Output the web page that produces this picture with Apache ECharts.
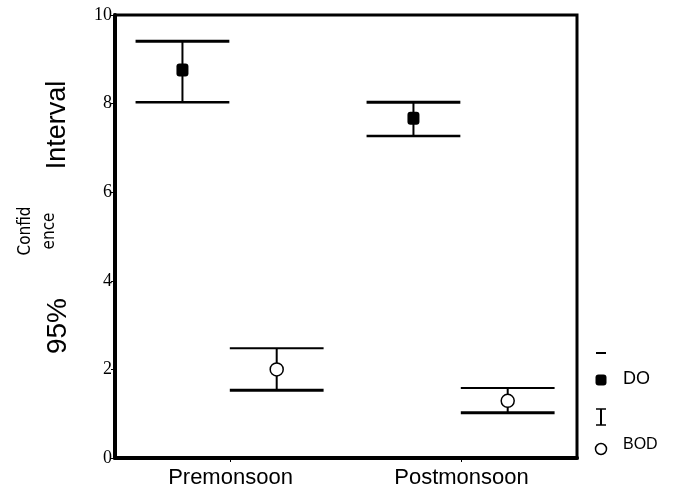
<!DOCTYPE html>
<html>
<head>
<meta charset="utf-8">
<script src="https://cdn.jsdelivr.net/npm/echarts@6/dist/echarts.min.js"></script>
<style>html,body{margin:0;padding:0;background:#fff}#c{width:675px;height:493px}</style>
</head>
<body>
<div id="c"></div>
<script>
const categories = ['Premonsoon', 'Postmonsoon'];
const yTicks = [0, 2, 4, 6, 8, 10];
const doMean = [8.76, 7.67];
const doLow = [8.03, 7.27];
const doHigh = [9.41, 8.03];
const bodMean = [2.0, 1.29];
const bodLow = [1.53, 1.02];
const bodHigh = [2.48, 1.58];

const chart = echarts.init(document.getElementById('c'), null, {renderer: 'canvas'});

function makeData(low, high, mean) {
  return categories.map((c, i) => [i, low[i], high[i], mean[i]]);
}

function errRender(offFrac, kind) {
  return function (params, api) {
    const c = api.value(0);
    const bw = api.size([1, 0])[0];
    const off = offFrac * bw;
    const half = 0.203 * bw;
    const pL = api.coord([c, api.value(1)]);
    const pH = api.coord([c, api.value(2)]);
    const pM = api.coord([c, api.value(3)]);
    const x = pL[0] + off;
    const children = [
      {type: 'line', shape: {x1: x - half, y1: pH[1], x2: x + half, y2: pH[1]},
       style: {stroke: '#000', lineWidth: kind === 'do' ? 3 : 2}},
      {type: 'line', shape: {x1: x - half, y1: pL[1], x2: x + half, y2: pL[1]},
       style: {stroke: '#000', lineWidth: kind === 'do' ? 2.5 : 3}},
      {type: 'line', shape: {x1: x, y1: pH[1], x2: x, y2: pL[1]},
       style: {stroke: '#000', lineWidth: 2}}
    ];
    if (kind === 'do') {
      children.push({type: 'rect', shape: {x: x - 6, y: pM[1] - 6.5, width: 12, height: 13, r: 3},
        style: {fill: '#000'}});
    } else {
      children.push({type: 'circle', shape: {cx: x, cy: pM[1], r: 6.5},
        style: {fill: '#fff', stroke: '#000', lineWidth: 1.5}});
    }
    return {type: 'group', children: children};
  };
}

const option = {
  animation: false,
  backgroundColor: '#fff',
  grid: {left: 115, right: 98, top: 15, bottom: 35, show: true, borderColor: '#000', borderWidth: 3},
  xAxis: {
    type: 'category',
    data: categories,
    axisLine: {lineStyle: {color: '#000', width: 4}},
    axisTick: {show: true, alignWithLabel: true, length: 4, lineStyle: {color: '#000', width: 1}},
    axisLabel: {color: '#000', fontFamily: 'Liberation Sans, Arial, sans-serif', fontSize: 22, margin: 9}
  },
  yAxis: {
    type: 'value',
    min: 0, max: 10, interval: 2,
    splitLine: {show: false},
    axisLine: {show: true, lineStyle: {color: '#000', width: 4}},
    axisTick: {show: true, length: 4, lineStyle: {color: '#000', width: 1}},
    axisLabel: {color: '#000', fontFamily: 'Liberation Serif, Times New Roman, serif', fontSize: 18, margin: 3,
      formatter: v => yTicks.indexOf(v) >= 0 ? String(v) : ''}
  },
  series: [
    {type: 'custom', name: 'DO', data: makeData(doLow, doHigh, doMean),
     encode: {x: 0, y: [1, 2, 3]}, renderItem: errRender(-0.208, 'do'), z: 5},
    {type: 'custom', name: 'BOD', data: makeData(bodLow, bodHigh, bodMean),
     encode: {x: 0, y: [1, 2, 3]}, renderItem: errRender(0.2, 'bod'), z: 5}
  ],
  graphic: [
    {type: 'text', x: 58, y: 125, rotation: Math.PI / 2,
     style: {text: 'Interval', font: '27px "Liberation Sans", Arial, sans-serif', fill: '#000', align: 'center', verticalAlign: 'middle'}},
    {type: 'text', x: 58, y: 326, rotation: Math.PI / 2,
     style: {text: '95%', font: '28px "Liberation Sans", Arial, sans-serif', fill: '#000', align: 'center', verticalAlign: 'middle'}},
    {type: 'text', x: 38, y: 231, rotation: Math.PI / 2,
     style: {text: 'Confid\nence', font: '17px "Liberation Sans Narrow", "DejaVu Sans Condensed", sans-serif', fill: '#000', align: 'center', verticalAlign: 'middle', lineHeight: 24}},
    {type: 'line', shape: {x1: 596, y1: 353, x2: 606, y2: 353}, style: {stroke: '#000', lineWidth: 2}},
    {type: 'rect', shape: {x: 595.5, y: 374.5, width: 11, height: 11, r: 3}, style: {fill: '#000'}},
    {type: 'text', x: 623, y: 379, style: {text: 'DO', font: '18px "Liberation Sans", Arial, sans-serif', fill: '#000', verticalAlign: 'middle'}},
    {type: 'line', shape: {x1: 596, y1: 409, x2: 606, y2: 409}, style: {stroke: '#000', lineWidth: 1.5}},
    {type: 'line', shape: {x1: 601, y1: 409, x2: 601, y2: 425}, style: {stroke: '#000', lineWidth: 2}},
    {type: 'line', shape: {x1: 596, y1: 425, x2: 606, y2: 425}, style: {stroke: '#000', lineWidth: 1.5}},
    {type: 'circle', shape: {cx: 601, cy: 449, r: 5.5}, style: {fill: '#fff', stroke: '#000', lineWidth: 1.5}},
    {type: 'text', x: 623, y: 445, style: {text: 'BOD', font: '16px "Liberation Sans", Arial, sans-serif', fill: '#000', verticalAlign: 'middle'}}
  ]
};
chart.setOption(option);
</script>
</body>
</html>
